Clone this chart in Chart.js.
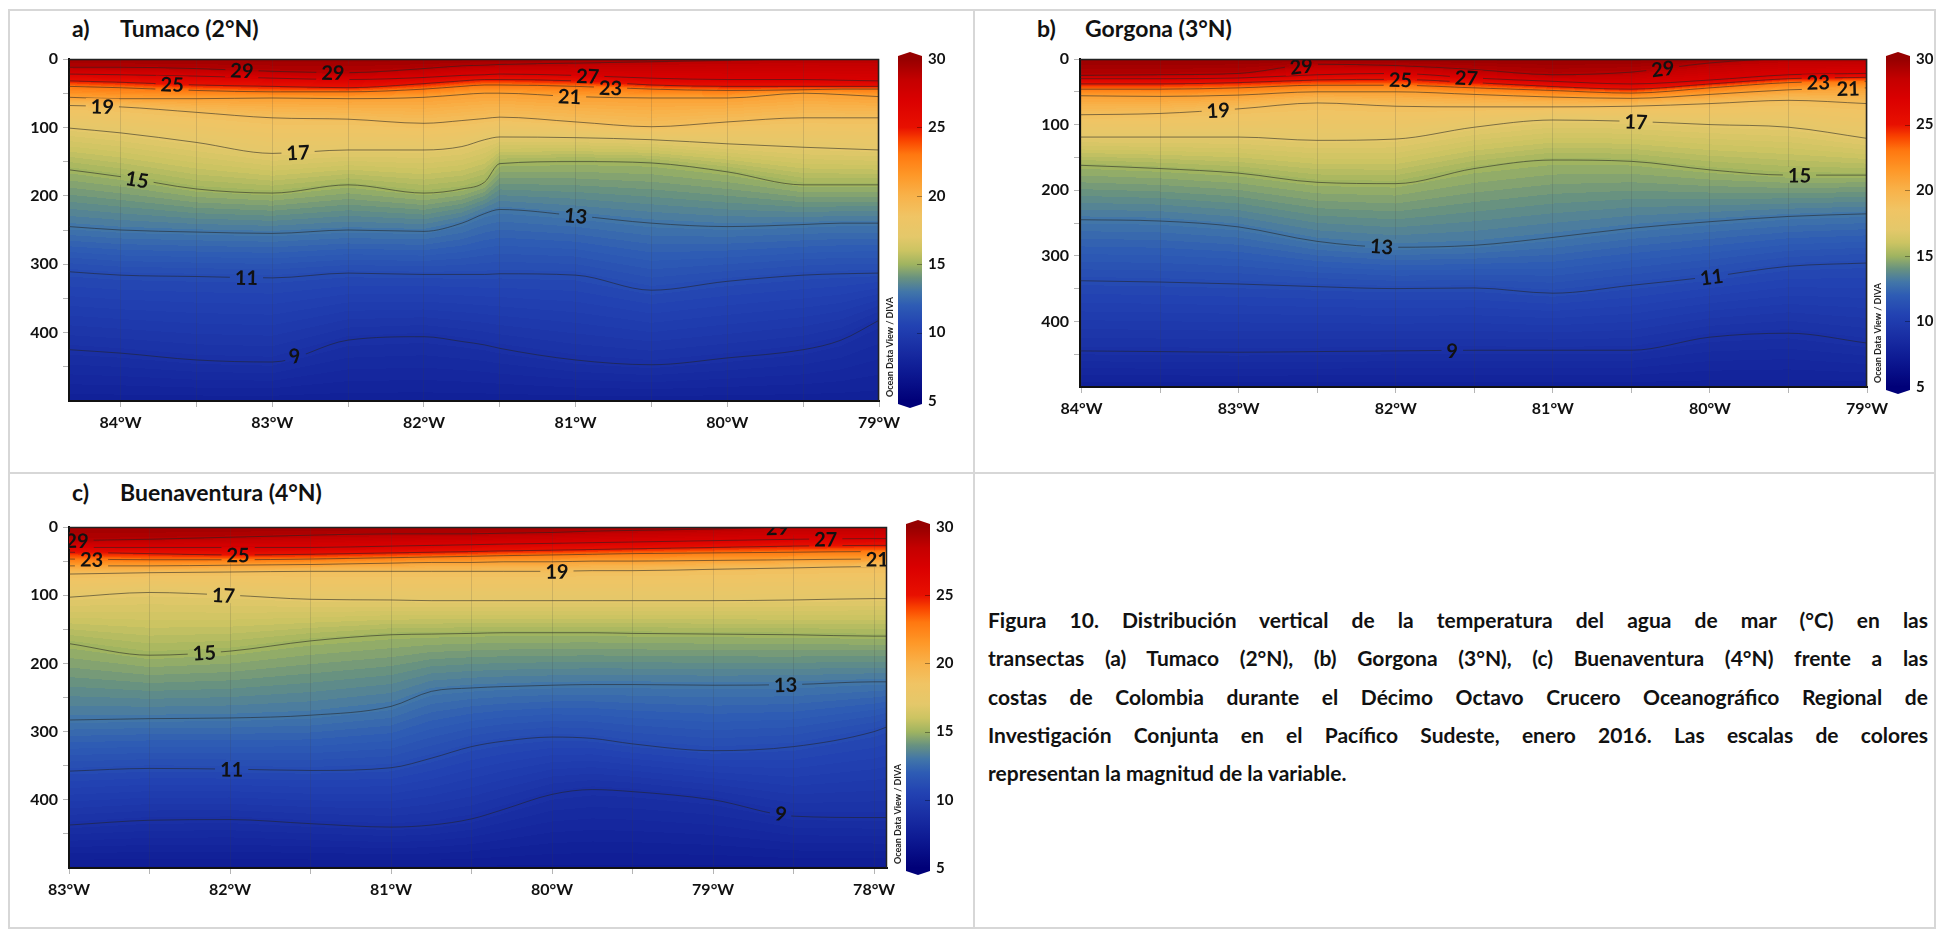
<!DOCTYPE html>
<html lang="es">
<head>
<meta charset="utf-8">
<title>Distribución vertical de la temperatura del agua de mar</title>
<script src="https://cdn.jsdelivr.net/npm/chart.js@4.4.1/dist/chart.umd.min.js"></script>
<style>
  html, body { margin: 0; padding: 0; background: #fff; overflow: hidden; }
  body { width: 1938px; height: 934px; position: relative; font-family: Lato, 'Open Sans', sans-serif; }
  .frame { position: absolute; left: 8px; top: 9px; width: 1924px; height: 916px; border: 2px solid #d7d7d7; }
  .vline { position: absolute; left: 973px; top: 9px; width: 2px; height: 920px; background: #d7d7d7; }
  .hline { position: absolute; left: 8px; top: 472px; width: 1928px; height: 2px; background: #d7d7d7; }
  .title { position: absolute; font-weight: 700; font-size: 23px; line-height: 30px; color: #111; white-space: nowrap; }
  canvas { position: absolute; }
  .caption { position: absolute; left: 988px; top: 601px; width: 940px; font-weight: 700; font-size: 21px; line-height: 38.3px; color: #111; }
  .caption div { text-align: justify; text-align-last: justify; }
  .caption div.last { text-align-last: left; }
</style>
</head>
<body>
<div class="frame"></div>
<div class="vline"></div>
<div class="hline"></div>

<div class="title" style="left:72px; top:13px">a)</div>
<div class="title" style="left:120px; top:13px">Tumaco (2°N)</div>
<div class="title" style="left:1037px; top:13px">b)</div>
<div class="title" style="left:1085px; top:13px">Gorgona (3°N)</div>
<div class="title" style="left:72px; top:477px">c)</div>
<div class="title" style="left:120px; top:477px">Buenaventura (4°N)</div>

<canvas id="tumaco" width="950" height="410" style="left:12px; top:36px"></canvas>
<canvas id="gorgona" width="958" height="400" style="left:980px; top:36px"></canvas>
<canvas id="buenaventura" width="955" height="415" style="left:12px; top:500px"></canvas>

<div class="caption">
  <div>Figura 10. Distribución vertical de la temperatura del agua de mar (°C) en las</div>
  <div>transectas (a) Tumaco (2°N), (b) Gorgona (3°N), (c) Buenaventura (4°N) frente a las</div>
  <div>costas de Colombia durante el Décimo Octavo Crucero Oceanográfico Regional de</div>
  <div>Investigación Conjunta en el Pacífico Sudeste, enero 2016. Las escalas de colores</div>
  <div class="last">representan la magnitud de la variable.</div>
</div>

<script>
// isotherms drawn in every section (°C), shallowest first
const isoLevels = [29, 27, 25, 23, 21, 19, 17, 15, 13, 11, 9];
const depthTicks = [0, 50, 100, 150, 200, 250, 300, 350, 400, 450];

// a) Tumaco (2°N): depth (m) of each isotherm along the transect
const tumacoLon = [-84.34, -84.0, -83.5, -83.0, -82.5, -82.0, -81.75, -81.6, -81.5, -81.0, -80.5, -80.0, -79.5, -79.25, -79.0];
const tumacoDepth = [
  [12, 12, 14, 18, 20, 14, 10, 9, 8, 6, 4, 2, 0, 0, 0],
  [22, 23, 25, 28, 30, 27, 24, 23, 22, 24, 28, 30, 30, 31, 32],
  [32, 34, 38, 40, 42, 36, 32, 30, 30, 32, 38, 40, 40, 40, 40],
  [40, 42, 46, 48, 48, 44, 40, 38, 38, 40, 44, 46, 45, 44, 44],
  [56, 58, 58, 57, 58, 56, 52, 50, 50, 55, 57, 57, 50, 52, 55],
  [68, 70, 78, 86, 88, 94, 90, 87, 85, 92, 99, 92, 86, 86, 86],
  [101, 108, 122, 138, 133, 133, 128, 118, 114, 115, 118, 124, 129, 131, 133],
  [162, 172, 190, 196, 184, 196, 190, 180, 153, 150, 152, 165, 184, 184, 184],
  [245, 250, 253, 255, 250, 252, 240, 226, 220, 229, 240, 245, 242, 240, 240],
  [311, 316, 318, 320, 313, 315, 315, 315, 314, 316, 338, 325, 316, 314, 313],
  [425, 430, 440, 443, 411, 406, 413, 418, 423, 440, 447, 437, 425, 411, 382]
];
const tumacoTicks = [-84, -83.5, -83, -82.5, -82, -81.5, -81, -80.5, -80, -79.5, -79];
const tumacoLabels = [[29, -83.2], [29, -82.6], [25, -83.66], [27, -80.92], [23, -80.77], [21, -81.04],
  [19, -84.12], [17, -82.83], [15, -83.89], [13, -81.0], [11, -83.17], [9, -82.85]];

// b) Gorgona (3°N)
const gorgonaLon = [-84.01, -83.5, -83.0, -82.5, -82.0, -81.5, -81.0, -80.5, -80.0, -79.5, -79.0];
const gorgonaDepth = [
  [25, 24, 22, 8, 10, 16, 24, 20, 6, 0, 0],
  [30, 30, 29, 24, 22, 29, 34, 38, 32, 24, 22],
  [38, 38, 36, 32, 31, 36, 42, 46, 38, 30, 28],
  [46, 46, 44, 40, 40, 44, 48, 52, 44, 36, 34],
  [56, 57, 55, 50, 50, 54, 58, 60, 54, 47, 44],
  [85, 83, 76, 67, 72, 73, 73, 72, 68, 63, 68],
  [119, 119, 119, 124, 122, 104, 93, 95, 100, 104, 121],
  [162, 167, 174, 188, 190, 167, 154, 156, 169, 177, 177],
  [245, 247, 256, 278, 287, 284, 272, 258, 248, 240, 236],
  [338, 340, 343, 347, 350, 349, 357, 345, 332, 316, 311],
  [445, 446, 447, 446, 445, 444, 444, 444, 424, 418, 433]
];
const gorgonaTicks = [-84, -83.5, -83, -82.5, -82, -81.5, -81, -80.5, -80, -79.5, -79];
const gorgonaLabels = [[29, -82.6], [29, -80.3], [25, -81.97], [27, -81.55], [23, -79.31], [21, -79.12],
  [19, -83.13], [17, -80.47], [15, -79.43], [13, -82.09], [11, -79.99], [9, -81.64]];

// c) Buenaventura (4°N)
const buenaventuraLon = [-83.0, -82.5, -82.0, -81.5, -81.0, -80.75, -80.5, -80.3, -80.0, -79.75, -79.5, -79.0, -78.5, -78.0, -77.92];
const buenaventuraDepth = [
  [20, 18, 15, 12, 10, 10, 10, 9, 8, 6, 5, 3, 0, 0, 0],
  [30, 30, 30, 30, 28, 27, 26, 25, 24, 23, 22, 20, 18, 17, 17],
  [37, 39, 41, 40, 38, 37, 36, 35, 34, 33, 32, 30, 28, 27, 27],
  [47, 48, 48, 47, 45, 44, 43, 42, 41, 40, 39, 38, 37, 36, 36],
  [57, 57, 56, 55, 53, 52, 52, 51, 51, 50, 50, 49, 48, 47, 47],
  [69, 67, 66, 65, 65, 65, 65, 65, 65, 64, 64, 62, 60, 58, 58],
  [103, 96, 100, 106, 107, 108, 108, 108, 108, 108, 108, 108, 107, 105, 105],
  [171, 188, 182, 167, 158, 157, 156, 155, 155, 155, 156, 157, 158, 160, 160],
  [283, 281, 280, 276, 263, 241, 236, 234, 232, 231, 231, 232, 231, 227, 227],
  [358, 354, 355, 357, 353, 339, 322, 314, 308, 310, 318, 328, 322, 300, 293],
  [437, 430, 429, 435, 440, 437, 428, 414, 392, 385, 388, 400, 424, 426, 426]
];
const buenaventuraTicks = [-83, -82.5, -82, -81.5, -81, -80.5, -80, -79.5, -79, -78.5, -78];
const buenaventuraLabels = [[29, -82.95], [23, -82.86], [25, -81.95], [19, -79.97], [17, -82.04], [15, -82.16],
  [13, -78.55], [11, -81.99], [9, -78.58], [29, -78.6], [27, -78.3], [21, -77.98]];

// colour scale, °C -> rgb
const paletteTemp = [5, 7, 9, 10.5, 12, 13, 14, 15, 16, 17, 18.5, 20, 21.5, 23, 24, 25, 27, 28.5, 30];
const paletteRGB = [
  [0, 0, 120], [12, 24, 145], [26, 48, 165], [34, 66, 178], [46, 92, 180], [66, 118, 168],
  [104, 146, 128], [160, 180, 96], [204, 196, 98], [228, 200, 106], [240, 196, 100], [248, 178, 74],
  [254, 152, 40], [255, 120, 16], [250, 70, 0], [232, 16, 0], [218, 0, 0], [196, 0, 0], [150, 0, 0]
];

function tempColor(t) {
  if (t <= paletteTemp[0]) return paletteRGB[0];
  for (let i = 1; i < paletteTemp.length; i++) {
    if (t <= paletteTemp[i]) {
      const f = (t - paletteTemp[i - 1]) / (paletteTemp[i] - paletteTemp[i - 1]);
      const a = paletteRGB[i - 1], b = paletteRGB[i];
      return [a[0] + (b[0] - a[0]) * f, a[1] + (b[1] - a[1]) * f, a[2] + (b[2] - a[2]) * f];
    }
  }
  return paletteRGB[paletteRGB.length - 1];
}
const rgb = c => `rgb(${Math.round(c[0])},${Math.round(c[1])},${Math.round(c[2])})`;

function depthAt(lons, depths, lon) {
  if (lon <= lons[0]) return depths[0];
  for (let j = 1; j < lons.length; j++) {
    if (lon <= lons[j]) {
      const f = (lon - lons[j - 1]) / (lons[j] - lons[j - 1]);
      return depths[j - 1] + (depths[j] - depths[j - 1]) * f;
    }
  }
  return depths[depths.length - 1];
}

// shaded temperature field, filled between the isotherms
const fieldPlugin = {
  id: 'field',
  beforeDraw(chart, args, opts) {
    const { ctx, chartArea: a, scales: { x, y } } = chart;
    const w = Math.round(a.right - a.left), h = Math.round(a.bottom - a.top);
    const off = document.createElement('canvas');
    off.width = w; off.height = h;
    const octx = off.getContext('2d');
    const img = octx.createImageData(w, h);
    for (let px = 0; px < w; px++) {
      const lon = x.getValueForPixel(a.left + px + 0.5);
      const stops = [[0, opts.surface]];
      isoLevels.forEach((t, i) => stops.push([depthAt(opts.lon, opts.depth[i], lon), t]));
      stops.push([y.max, opts.bottom]);
      let k = 1;
      for (let py = 0; py < h; py++) {
        const d = y.getValueForPixel(a.top + py + 0.5);
        while (k < stops.length - 1 && d > stops[k][0]) k++;
        const [d0, t0] = stops[k - 1], [d1, t1] = stops[k];
        let t = d1 > d0 ? t0 + (t1 - t0) * (d - d0) / (d1 - d0) : t1;
        t = Math.round(t * 4) / 4;
        const c = tempColor(t);
        const p = (py * w + px) * 4;
        img.data[p] = c[0]; img.data[p + 1] = c[1]; img.data[p + 2] = c[2]; img.data[p + 3] = 255;
      }
    }
    octx.putImageData(img, 0, 0);
    chart.$field = off;
    ctx.drawImage(off, a.left, a.top);
  }
};

// contour labels, with the isoline broken under the number
const isoLabelPlugin = {
  id: 'isoLabels',
  afterDatasetsDraw(chart, args, opts) {
    const { ctx, chartArea: a, scales: { x, y } } = chart;
    ctx.save();
    ctx.beginPath();
    ctx.rect(a.left, a.top, a.right - a.left, a.bottom - a.top);
    ctx.clip();
    ctx.font = 'bold 20px Lato';
    opts.labels.forEach(([t, lon]) => {
      const depths = opts.depth[isoLevels.indexOf(t)];
      const px = x.getPixelForValue(lon);
      const py = y.getPixelForValue(depthAt(opts.lon, depths, lon));
      const xl = x.getPixelForValue(lon - 0.1), xr = x.getPixelForValue(lon + 0.1);
      const yl = y.getPixelForValue(depthAt(opts.lon, depths, lon - 0.1));
      const yr = y.getPixelForValue(depthAt(opts.lon, depths, lon + 0.1));
      const ang = Math.max(-0.4, Math.min(0.4, Math.atan2(yr - yl, xr - xl)));
      const txt = String(t);
      const w = ctx.measureText(txt).width;
      ctx.save();
      ctx.translate(px, py);
      ctx.rotate(ang);
      ctx.beginPath();
      ctx.rect(-w / 2 - 5, -8, w + 10, 16);
      ctx.clip();
      ctx.rotate(-ang);
      ctx.translate(-px, -py);
      ctx.drawImage(chart.$field, a.left, a.top);
      ctx.restore();
      ctx.save();
      ctx.translate(px, py);
      ctx.rotate(ang);
      ctx.fillStyle = '#111';
      ctx.textAlign = 'center';
      ctx.textBaseline = 'middle';
      ctx.fillText(txt, 0, 1);
      ctx.restore();
    });
    ctx.restore();
    // top and right edges of the section
    ctx.save();
    ctx.strokeStyle = '#222';
    ctx.lineWidth = 1.5;
    ctx.beginPath();
    ctx.moveTo(a.left, a.top + 0.5);
    ctx.lineTo(a.right - 0.5, a.top + 0.5);
    ctx.lineTo(a.right - 0.5, a.bottom);
    ctx.stroke();
    ctx.restore();
  }
};

// colour bar beside each section
const colorbarPlugin = {
  id: 'colorbar',
  afterDraw(chart) {
    const { ctx, chartArea: a, scales: { cb } } = chart;
    const x0 = a.right + 19, x1 = x0 + 24, xm = (x0 + x1) / 2;
    const yTop = cb.getPixelForValue(cb.max), yBot = cb.getPixelForValue(cb.min);
    const g = ctx.createLinearGradient(0, yBot, 0, yTop);
    for (let t = cb.min; t <= cb.max; t += 0.25) {
      g.addColorStop((t - cb.min) / (cb.max - cb.min), rgb(tempColor(t)));
    }
    ctx.save();
    ctx.fillStyle = g;
    ctx.fillRect(x0, yTop, x1 - x0, yBot - yTop);
    ctx.fillStyle = rgb(tempColor(30));
    ctx.beginPath();
    ctx.moveTo(x0, yTop + 1); ctx.lineTo(x0, yTop - 3); ctx.lineTo(xm, yTop - 7);
    ctx.lineTo(x1, yTop - 3); ctx.lineTo(x1, yTop + 1); ctx.closePath(); ctx.fill();
    ctx.fillStyle = rgb(tempColor(5));
    ctx.beginPath();
    ctx.moveTo(x0, yBot - 1); ctx.lineTo(x0, yBot + 3); ctx.lineTo(xm, yBot + 7);
    ctx.lineTo(x1, yBot + 3); ctx.lineTo(x1, yBot - 1); ctx.closePath(); ctx.fill();
    ctx.strokeStyle = 'rgba(0,0,0,0.35)';
    ctx.lineWidth = 1;
    [10, 15, 20, 25].forEach(v => {
      const yy = Math.round(cb.getPixelForValue(v)) + 0.5;
      ctx.beginPath(); ctx.moveTo(x1 - 5, yy); ctx.lineTo(x1, yy); ctx.stroke();
    });
    ctx.translate(a.right + 11.5, a.bottom - 4);
    ctx.rotate(-Math.PI / 2);
    ctx.font = 'bold 9px Lato';
    ctx.fillStyle = '#222';
    ctx.textAlign = 'left';
    ctx.textBaseline = 'middle';
    ctx.fillText('Ocean Data View / DIVA', 0, 0);
    ctx.restore();
  }
};

function makeSection(id, lon, depth, lonTicks, labels, surface, bottom, box) {
  const datasets = isoLevels.map((t, i) => ({
    label: t + ' °C',
    data: lon.map((x, j) => ({ x, y: depth[i][j] })),
    borderColor: 'rgba(35,35,35,0.55)',
    borderWidth: 1,
    pointRadius: 0,
    cubicInterpolationMode: 'monotone'
  }));
  return new Chart(document.getElementById(id), {
    type: 'line',
    data: { datasets },
    plugins: [fieldPlugin, isoLabelPlugin, colorbarPlugin],
    options: {
      responsive: false,
      animation: false,
      layout: { padding: { top: box.top, left: 0, right: 0, bottom: 0 } },
      plugins: {
        legend: { display: false },
        tooltip: { enabled: false },
        field: { lon, depth, surface, bottom },
        isoLabels: { lon, depth, labels }
      },
      scales: {
        x: {
          type: 'linear',
          min: lon[0],
          max: lon[lon.length - 1],
          afterBuildTicks: s => { s.ticks = lonTicks.map(v => ({ value: v })); },
          afterFit: s => { s.height = box.xh; },
          ticks: {
            autoSkip: false, maxRotation: 0, padding: 6,
            color: '#111', font: { size: 16, weight: 'bold' },
            callback: v => Number.isInteger(v) ? Math.abs(v) + '°W' : ''
          },
          grid: { color: 'rgba(60,60,60,0.16)', tickColor: '#b5b5b5', tickLength: 6 },
          border: { color: '#111', width: 2 }
        },
        y: {
          type: 'linear',
          reverse: true,
          min: 0,
          max: 500,
          afterBuildTicks: s => { s.ticks = depthTicks.map(v => ({ value: v })); },
          afterFit: s => { s.width = box.yw; s.paddingTop = 0; s.paddingBottom = 0; },
          ticks: {
            autoSkip: false, padding: 5,
            color: '#111', font: { size: 16, weight: 'bold' },
            callback: v => v % 100 === 0 ? v : ''
          },
          grid: { drawOnChartArea: false, tickColor: '#b5b5b5', tickLength: 6 },
          border: { color: '#111', width: 2 }
        },
        cb: {
          type: 'linear',
          position: 'right',
          min: 5,
          max: 30,
          // labels sit past the colour bar; keep the wide tick padding out of the layout
          afterFit: s => { s.width = box.cbw; s.paddingTop = 0; s.paddingBottom = 0; },
          ticks: { stepSize: 5, padding: 49, color: '#111', font: { size: 15, weight: 'bold' } },
          grid: { display: false, drawTicks: false },
          border: { display: false }
        }
      }
    }
  });
}

Chart.defaults.font.family = 'Lato';

makeSection('tumaco', tumacoLon, tumacoDepth, tumacoTicks, tumacoLabels, 29.8, 7.7,
  { top: 23, yw: 57, xh: 45, cbw: 83 });
makeSection('gorgona', gorgonaLon, gorgonaDepth, gorgonaTicks, gorgonaLabels, 30.0, 7.7,
  { top: 23, yw: 100, xh: 49, cbw: 71 });
makeSection('buenaventura', buenaventuraLon, buenaventuraDepth, buenaventuraTicks, buenaventuraLabels, 29.7, 7.3,
  { top: 27, yw: 57, xh: 47, cbw: 80 });
</script>
</body>
</html>
